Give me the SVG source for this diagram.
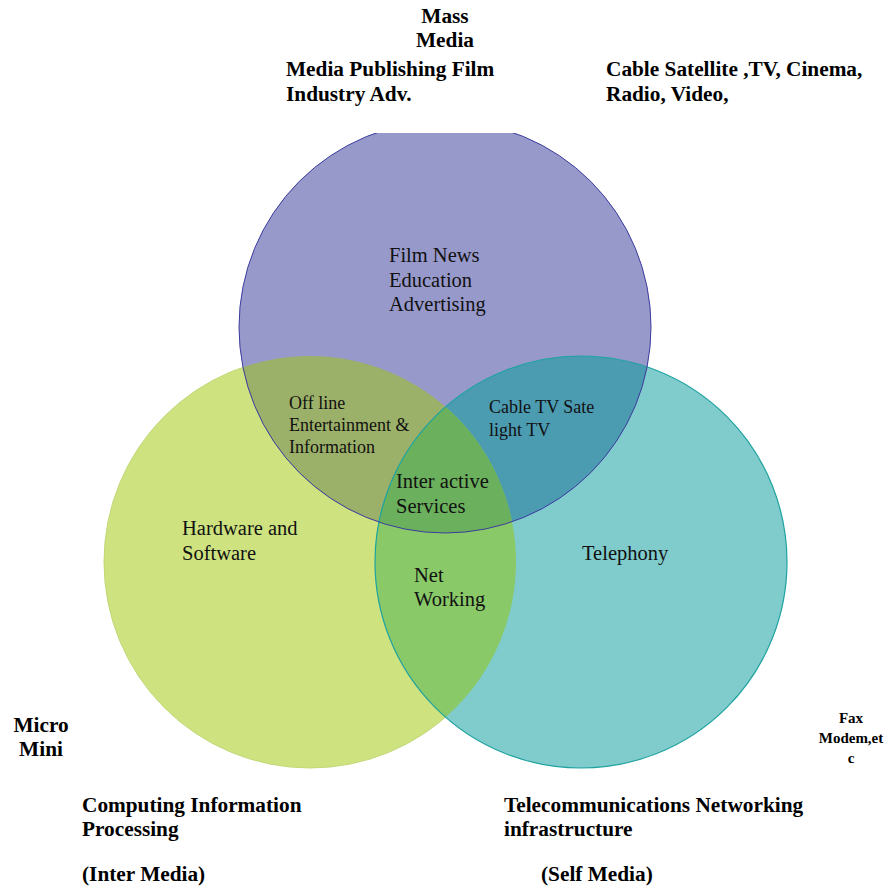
<svg xmlns="http://www.w3.org/2000/svg" width="893" height="888" viewBox="0 0 893 888">
<style>
.lb{font-family:"Liberation Serif","Times New Roman",serif;font-weight:bold;font-size:21.3px;fill:#000}
.sm{font-family:"Liberation Serif","Times New Roman",serif;font-weight:bold;font-size:15px;fill:#000}
.in{font-family:"Liberation Serif","Times New Roman",serif;font-size:20.5px;fill:#111}
.in2{font-family:"Liberation Serif","Times New Roman",serif;font-size:18px;fill:#111}
</style>
<defs>
<clipPath id="clipTop"><rect x="0" y="133" width="893" height="755"/></clipPath>
<clipPath id="cP"><circle cx="445" cy="327" r="206"/></clipPath>
<clipPath id="cG"><circle cx="310" cy="562" r="206"/></clipPath>
<clipPath id="cT"><circle cx="581" cy="562" r="206"/></clipPath>
</defs>
<rect width="893" height="888" fill="#fff"/>
<g id="circle-computing">
<circle cx="310" cy="562" r="206" fill="#cee380" stroke="#c2d878" stroke-width="1"/>
</g>
<g id="circle-telecom">
<circle cx="581" cy="562" r="206" fill="#80cbcc"/>
</g>
<g id="circle-mass-media" clip-path="url(#clipTop)">
<circle cx="445" cy="327" r="206" fill="#9899cb"/>
</g>
<g id="overlaps">
<circle cx="310" cy="562" r="206" fill="#9bb068" clip-path="url(#cP)"/>
<circle cx="581" cy="562" r="206" fill="#4b9bb1" clip-path="url(#cP)"/>
<circle cx="581" cy="562" r="206" fill="#8ac968" clip-path="url(#cG)"/>
<g clip-path="url(#cP)"><circle cx="581" cy="562" r="206" fill="#6bb05c" clip-path="url(#cG)"/></g>
</g>
<g id="outlines" fill="none">
<circle cx="581" cy="562" r="206" stroke="#1fa3a0" stroke-width="1.2"/>
<circle cx="445" cy="327" r="206" stroke="#3c3c9e" stroke-width="1" clip-path="url(#clipTop)"/>
</g>
<g id="region-mass-media">
<text class="in" x="389" y="262">Film News</text>
<text class="in" x="389" y="286.5">Education</text>
<text class="in" x="389" y="311">Advertising</text>
</g>
<g id="region-offline">
<text class="in2" x="289" y="409">Off line</text>
<text class="in2" x="289" y="431">Entertainment &amp;</text>
<text class="in2" x="289" y="453">Information</text>
</g>
<g id="region-cable">
<text class="in2" x="489" y="413">Cable TV Sate</text>
<text class="in2" x="489" y="436">light TV</text>
</g>
<g id="region-interactive">
<text class="in" x="396" y="488">Inter active</text>
<text class="in" x="396" y="513">Services</text>
</g>
<g id="region-computing">
<text class="in" x="182" y="535">Hardware and</text>
<text class="in" x="182" y="560">Software</text>
</g>
<g id="region-networking">
<text class="in" x="414" y="582">Net</text>
<text class="in" x="414" y="606">Working</text>
</g>
<g id="region-telecom">
<text class="in" x="582" y="560">Telephony</text>
</g>
<g id="label-mass-media">
<text class="lb" x="445" y="23" text-anchor="middle">Mass</text>
<text class="lb" x="445" y="47" text-anchor="middle">Media</text>
<text class="lb" x="286" y="76">Media Publishing Film</text>
<text class="lb" x="286" y="101">Industry Adv.</text>
</g>
<g id="label-cable">
<text class="lb" x="606" y="76">Cable Satellite ,TV, Cinema,</text>
<text class="lb" x="606" y="101">Radio, Video,</text>
</g>
<g id="label-micro">
<text class="lb" x="41" y="732" text-anchor="middle">Micro</text>
<text class="lb" x="41" y="756" text-anchor="middle">Mini</text>
</g>
<g id="label-fax">
<text class="sm" x="851" y="723" text-anchor="middle">Fax</text>
<text class="sm" x="851" y="743" text-anchor="middle">Modem,et</text>
<text class="sm" x="851" y="763" text-anchor="middle">c</text>
</g>
<g id="label-computing">
<text class="lb" x="82" y="812">Computing Information</text>
<text class="lb" x="82" y="836">Processing</text>
<text class="lb" x="82" y="881">(Inter Media)</text>
</g>
<g id="label-telecom">
<text class="lb" x="504" y="812">Telecommunications Networking</text>
<text class="lb" x="504" y="836">infrastructure</text>
<text class="lb" x="541" y="881">(Self Media)</text>
</g>
</svg>
